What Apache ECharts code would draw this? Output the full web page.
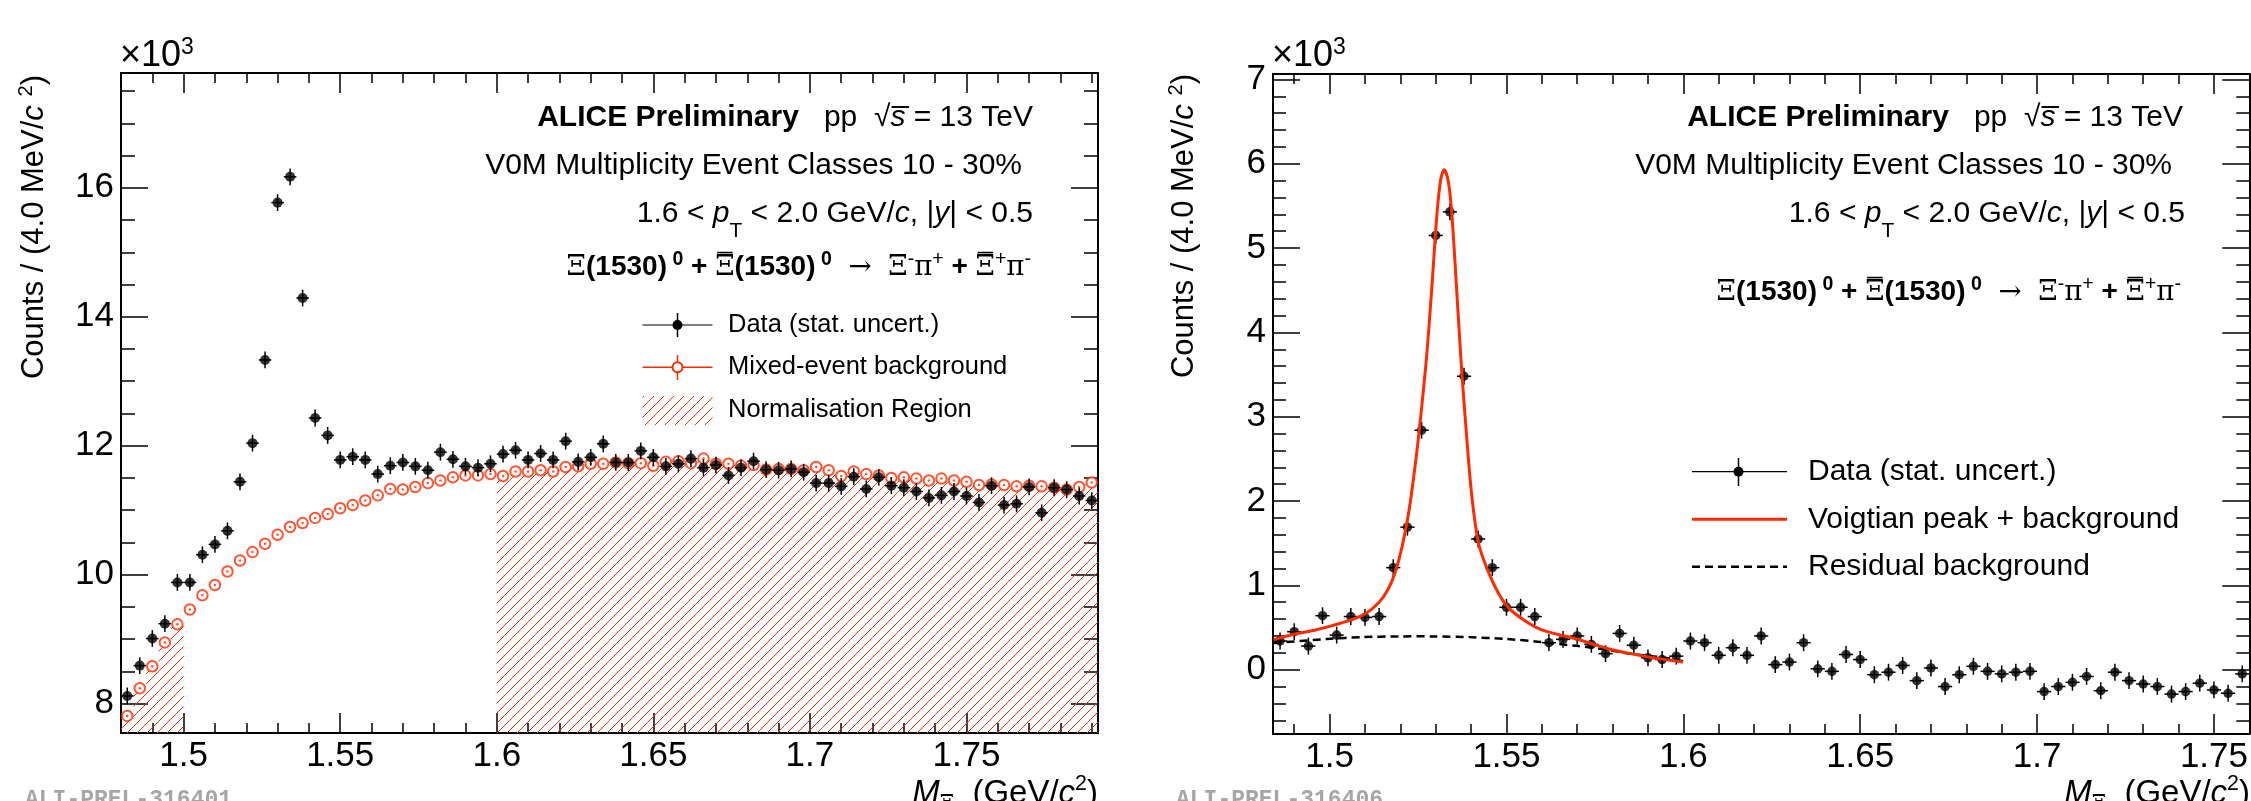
<!DOCTYPE html>
<html>
<head>
<meta charset="utf-8">
<script src="https://cdn.jsdelivr.net/npm/echarts@6/dist/echarts.min.js"></script>
<style>
  html, body { margin: 0; padding: 0; background: #fff; }
  #main { width: 2251px; height: 801px; }
</style>
</head>
<body>
<div id="main"></div>
<script>
const RED = '#ff2a00';
const FONT = 'Liberation Sans';
const GREEK = 'DejaVu Serif';
const BIN = 0.004;

// ---- left panel: invariant mass distribution (x10^3 counts per 4 MeV) ----
const massLeft = [
  1.482, 1.486, 1.490, 1.494, 1.498, 1.502, 1.506, 1.510, 1.514, 1.518,
  1.522, 1.526, 1.530, 1.534, 1.538, 1.542, 1.546, 1.550, 1.554, 1.558,
  1.562, 1.566, 1.570, 1.574, 1.578, 1.582, 1.586, 1.590, 1.594, 1.598,
  1.602, 1.606, 1.610, 1.614, 1.618, 1.622, 1.626, 1.630, 1.634, 1.638,
  1.642, 1.646, 1.650, 1.654, 1.658, 1.662, 1.666, 1.670, 1.674, 1.678,
  1.682, 1.686, 1.690, 1.694, 1.698, 1.702, 1.706, 1.710, 1.714, 1.718,
  1.722, 1.726, 1.730, 1.734, 1.738, 1.742, 1.746, 1.750, 1.754, 1.758,
  1.762, 1.766, 1.770, 1.774, 1.778, 1.782, 1.786, 1.790
];
const countsLeft = [
  8.12, 8.59, 9.01, 9.24, 9.88, 9.88, 10.31, 10.47, 10.68, 11.44,
  12.04, 13.33, 15.77, 16.17, 14.29, 12.43, 12.16, 11.78, 11.83, 11.78,
  11.56, 11.69, 11.74, 11.68, 11.62, 11.90, 11.79, 11.68, 11.66, 11.72,
  11.87, 11.93, 11.78, 11.88, 11.78, 12.07, 11.75, 11.82, 12.03, 11.74,
  11.74, 11.92, 11.82, 11.68, 11.72, 11.80, 11.66, 11.70, 11.54, 11.66,
  11.76, 11.63, 11.62, 11.64, 11.59, 11.42, 11.42, 11.37, 11.52, 11.33,
  11.51, 11.38, 11.35, 11.29, 11.19, 11.23, 11.29, 11.22, 11.12, 11.38,
  11.08, 11.10, 11.36, 10.96, 11.35, 11.32, 11.22, 11.15
];
const mixedLeft = [
  7.81, 8.24, 8.58, 8.95, 9.23, 9.46, 9.68, 9.84, 10.05, 10.22,
  10.35, 10.48, 10.62, 10.74, 10.80, 10.88, 10.94, 11.03, 11.08, 11.15,
  11.23, 11.33, 11.32, 11.36, 11.42, 11.46, 11.51, 11.54, 11.54, 11.56,
  11.53, 11.60, 11.60, 11.62, 11.60, 11.67, 11.68, 11.72, 11.72, 11.74,
  11.73, 11.73, 11.69, 11.75, 11.76, 11.73, 11.80, 11.72, 11.72, 11.69,
  11.70, 11.63, 11.64, 11.64, 11.62, 11.67, 11.62, 11.53, 11.60, 11.56,
  11.54, 11.50, 11.51, 11.49, 11.46, 11.49, 11.46, 11.44, 11.39, 11.40,
  11.39, 11.37, 11.38, 11.37, 11.35, 11.32, 11.36, 11.43
];
const errLeft = 0.13;
const normRegions = [[1.48, 1.50], [1.60, 1.792]];

// ---- right panel: after mixed-event subtraction ----
const massRight = [
  1.486, 1.490, 1.494, 1.498, 1.502, 1.506, 1.510, 1.514, 1.518, 1.522,
  1.526, 1.530, 1.534, 1.538, 1.542, 1.546, 1.550, 1.554, 1.558, 1.562,
  1.566, 1.570, 1.574, 1.578, 1.582, 1.586, 1.590, 1.594, 1.598, 1.602,
  1.606, 1.610, 1.614, 1.618, 1.622, 1.626, 1.630, 1.634, 1.638, 1.642,
  1.646, 1.650, 1.654, 1.658, 1.662, 1.666, 1.670, 1.674, 1.678, 1.682,
  1.686, 1.690, 1.694, 1.698, 1.702, 1.706, 1.710, 1.714, 1.718, 1.722,
  1.726, 1.730, 1.734, 1.738, 1.742, 1.746, 1.750, 1.754, 1.758
];
const countsRight = [
  0.34, 0.45, 0.28, 0.64, 0.41, 0.63, 0.62, 0.63, 1.21, 1.69,
  2.84, 5.15, 5.43, 3.48, 1.55, 1.21, 0.74, 0.74, 0.63, 0.32,
  0.36, 0.40, 0.30, 0.19, 0.43, 0.29, 0.14, 0.12, 0.16, 0.34,
  0.32, 0.17, 0.26, 0.17, 0.40, 0.06, 0.09, 0.32, 0.01, -0.02,
  0.18, 0.12, -0.06, -0.03, 0.05, -0.13, 0.02, -0.20, -0.06, 0.04,
  -0.02, -0.05, -0.03, -0.02, -0.26, -0.20, -0.15, -0.08, -0.25, -0.03,
  -0.13, -0.17, -0.20, -0.29, -0.26, -0.16, -0.24, -0.28, -0.05
];
const errRight = 0.1;

// Voigtian + background fit
const fitX = [
  1.4842, 1.4900, 1.4960, 1.5000, 1.5050, 1.5100, 1.5140, 1.5165, 1.5185, 1.5205,
  1.5225, 1.5245, 1.5260, 1.5275, 1.5290, 1.5303, 1.5314, 1.5324, 1.5336, 1.5346,
  1.5358, 1.5371, 1.5384, 1.5401, 1.5421, 1.5446, 1.5477, 1.5507, 1.5548, 1.5598,
  1.5648, 1.5699, 1.5749, 1.5799, 1.5850, 1.5901, 1.5951, 1.5999
];
const fitY = [
  0.356, 0.42, 0.47, 0.514, 0.575, 0.66, 0.80, 0.95, 1.15, 1.46,
  1.90, 2.53, 3.10, 3.75, 4.59, 5.38, 5.81, 5.93, 5.78, 5.38,
  4.59, 3.70, 2.95, 2.10, 1.50, 1.19, 0.91, 0.73, 0.593, 0.474,
  0.415, 0.364, 0.297, 0.237, 0.19, 0.15, 0.119, 0.091
];
// residual background
const bgX = [1.4842, 1.4943, 1.5043, 1.5144, 1.5245, 1.5346, 1.5446, 1.5548, 1.5648, 1.5749, 1.5850, 1.5951, 1.5999];
const bgY = [0.316, 0.348, 0.376, 0.391, 0.395, 0.391, 0.376, 0.348, 0.304, 0.257, 0.19, 0.138, 0.099];

// ---- axes ----
const X_LEFT = [1.48, 1.792];
const Y_LEFT = [7.545, 17.78];
const X_RIGHT = [1.484, 1.76];
const Y_RIGHT = [-0.763, 7.065];
const massTicks = [1.5, 1.55, 1.6, 1.65, 1.7, 1.75];
const leftYTicks = [8, 10, 12, 14, 16];
const rightYTicks = [0, 1, 2, 3, 4, 5, 6, 7];

function minorTicks(range, step, majors) {
  const out = [];
  for (let i = Math.ceil(range[0] / step - 1e-9); i * step <= range[1] + 1e-9; i++) {
    const v = +(i * step).toFixed(4);
    if (!majors.some(m => Math.abs(m - v) < 1e-6)) out.push(v);
  }
  return out;
}

function axisSet(dim, grid, range, major, minor, lenMajor, lenMinor, margin) {
  const sides = dim === 'x' ? ['bottom', 'top'] : ['left', 'right'];
  const out = [];
  sides.forEach((pos, si) => {
    [[major, lenMajor], [minor, lenMinor]].forEach(([vals, len], ti) => {
      const labelled = si === 0 && ti === 0;
      out.push({
        type: 'value', gridIndex: grid, position: pos,
        min: range[0], max: range[1],
        splitLine: { show: false },
        axisPointer: { show: false },
        axisLine: { show: ti === 0, onZero: false, lineStyle: { color: '#000', width: 2 } },
        axisTick: { show: true, inside: true, length: len, customValues: vals,
          lineStyle: { color: '#000', width: 1.5 } },
        axisLabel: labelled ? {
          show: true, customValues: major, margin,
          color: '#000', fontFamily: FONT, fontSize: 35,
          formatter: v => String(+(+v).toFixed(3))
        } : { show: false }
      });
    });
  });
  return out;
}

// hatch pattern for the normalisation region
function makeHatch() {
  const s = 10;
  const c = document.createElement('canvas');
  c.width = s; c.height = s;
  const g = c.getContext('2d');
  g.strokeStyle = RED; g.lineWidth = 1;
  g.beginPath();
  g.moveTo(0, s); g.lineTo(s, 0);
  g.moveTo(-s / 2, s / 2); g.lineTo(s / 2, -s / 2);
  g.moveTo(s / 2, s * 1.5); g.lineTo(s * 1.5, s / 2);
  g.stroke();
  return { image: c, repeat: 'repeat' };
}
const HATCH = makeHatch();

const hatchBins = [];
massLeft.forEach((m, i) => {
  if (normRegions.some(([a, b]) => m > a && m < b)) hatchBins.push([m - BIN / 2, m + BIN / 2, mixedLeft[i]]);
});

function errorBars(xi, yi, pts, err) {
  return {
    type: 'custom', xAxisIndex: xi, yAxisIndex: yi, data: pts, encode: { x: 0, y: 1 }, z: 3, silent: true,
    renderItem: (p, api) => {
      const x = api.value(0), y = api.value(1);
      const t = api.coord([x, y + err]), b = api.coord([x, y - err]);
      const l = api.coord([x - BIN / 2, y]), r = api.coord([x + BIN / 2, y]);
      const st = { stroke: '#000', lineWidth: 1.5 };
      return { type: 'group', children: [
        { type: 'line', shape: { x1: t[0], y1: t[1], x2: b[0], y2: b[1] }, style: st },
        { type: 'line', shape: { x1: l[0], y1: l[1], x2: r[0], y2: r[1] }, style: st }
      ] };
    }
  };
}

const pairs = (xs, ys) => xs.map((x, i) => [x, ys[i]]);

// ---- texts ----
function rich(size, lh, boldSize) {
  const base = { fontFamily: FONT, fontSize: size, lineHeight: lh, verticalAlign: 'middle', fill: '#000' };
  return {
    r: base,
    b: Object.assign({}, base, { fontWeight: 'bold', fontSize: boldSize || size }),
    i: Object.assign({}, base, { fontStyle: 'italic' }),
    g: Object.assign({}, base, { fontFamily: GREEK, fontSize: size * 0.92 }),
    s: { fontFamily: FONT, fontSize: size * 0.65, lineHeight: size * 0.63, verticalAlign: 'top', fill: '#000' },
    bs: { fontFamily: FONT, fontWeight: 'bold', fontSize: size * 0.65, lineHeight: size * 0.63, verticalAlign: 'top', fill: '#000' },
    d: { fontFamily: FONT, fontSize: size * 0.7, lineHeight: size * 0.77, verticalAlign: 'bottom', fill: '#000' },
    gd: { fontFamily: GREEK, fontSize: size * 0.62, lineHeight: size * 0.77, verticalAlign: 'bottom', fill: '#000' }
  };
}
function txt(x, y, text, r, align, rotation) {
  return { type: 'text', x, y, rotation: rotation || 0, silent: true,
    style: { text, rich: r, align: align || 'right', verticalAlign: 'top', fontFamily: FONT, fill: '#000' } };
}

// measure tokens so that the bar of the anti-Xi can be placed over its glyph
const mctx = document.createElement('canvas').getContext('2d');
function tokenWidth(st, t) {
  mctx.font = (st.fontStyle || 'normal') + ' ' + (st.fontWeight || 'normal') + ' ' + st.fontSize + 'px "' + st.fontFamily + '"';
  return mctx.measureText(t).width;
}
function barredLine(xRight, lineTop, tokens, r, lh) {
  const text = tokens.map(([s, t]) => '{' + s + '|' + t + '}').join('');
  const widths = tokens.map(([s, t]) => tokenWidth(r[s], t));
  let x = xRight - widths.reduce((a, b) => a + b, 0);
  const out = [txt(xRight, lineTop, text, r)];
  tokens.forEach(([s, t, bar], k) => {
    if (bar) {
      const yb = lineTop + lh / 2 - r[s].fontSize * 0.36 - 5;
      out.push(seg(x + 2, yb, x + widths[k] - 2, yb, '#000', 1.6));
    }
    x += widths[k];
  });
  return out;
}

const line1 = '{b|ALICE Preliminary}{r|   pp  √}{i|s\u0305}{r| = 13 TeV}';
const line2 = '{r|V0M Multiplicity Event Classes 10 - 30%}';
const line3 = '{r|1.6 < }{i|p}{d|T}{r| < 2.0 GeV/}{i|c}{r|, |}{i|y}{r|| < 0.5}';
const line4 = [
  ['g', 'Ξ'], ['b', '(1530)'], ['bs', ' 0'], ['b', ' + '], ['g', 'Ξ', true], ['b', '(1530)'], ['bs', ' 0'],
  ['r', '  '], ['g', '→'], ['r', '  '], ['g', 'Ξ'], ['s', '-'], ['g', 'π'], ['s', '+'], ['b', ' + '],
  ['g', 'Ξ', true], ['s', '+'], ['g', 'π'], ['s', '-']
];
const yTitle = '{r|Counts / (4.0 MeV/}{i|c}{r| }{s|2}{r|)}';
const xTitle = '{i|M}{gd|Ξ}{r|  (GeV/}{i|c}{s|2}{r|)}';
const times = '{a|×10}{s|3}';
const timesRich = { a: { fontFamily: FONT, fontSize: 36, lineHeight: 40, verticalAlign: 'middle', fill: '#000' },
  s: { fontFamily: FONT, fontSize: 23, lineHeight: 14, verticalAlign: 'top', fill: '#000' } };

const R30 = rich(30, 36), R30s = rich(30, 55), R30x = rich(30, 36, 28);

function plain(x, y, text, size, extra) {
  return { type: 'text', x, y, silent: true,
    style: Object.assign({ text, fontFamily: FONT, fontSize: size, fill: '#000', align: 'left', verticalAlign: 'middle' }, extra || {}) };
}
function seg(x1, y1, x2, y2, stroke, w, dash) {
  return { type: 'line', silent: true, shape: { x1, y1, x2, y2 }, style: { stroke, lineWidth: w, lineDash: dash || null } };
}
function dot(cx, cy, r, fill, stroke, w) {
  return { type: 'circle', silent: true, shape: { cx, cy, r }, style: { fill, stroke: stroke || null, lineWidth: w || 0 } };
}

const graphics = [
  // left header
  txt(1033, 99.5, line1, R30), txt(1022, 147.8, line2, R30),
  txt(1033, 186.5, line3, R30s), ...barredLine(1031, 249.5, line4, R30x, 36),
  // right header
  txt(2183, 99.5, line1, R30), txt(2172, 147.8, line2, R30),
  txt(2185, 186.5, line3, R30s), ...barredLine(2181, 274.5, line4, R30x, 36),
  // axis titles
  txt(16.5, 75, yTitle, rich(31, 36), 'right', Math.PI / 2),
  txt(1166.5, 74, yTitle, rich(31, 36), 'right', Math.PI / 2),
  txt(1098, 774, xTitle, rich(33, 40)), txt(2250, 774, xTitle, rich(33, 40)),
  txt(120, 36.3, times, timesRich, 'left'), txt(1272, 36.3, times, timesRich, 'left'),
  // left legend
  seg(642.5, 325, 712.5, 325, '#000', 1.2), seg(677.5, 313, 677.5, 337, '#000', 1.5),
  dot(677.5, 325, 5, '#000'),
  seg(642.5, 367.3, 712.5, 367.3, RED, 1.5), seg(677.5, 355, 677.5, 380, RED, 1.5),
  dot(677.5, 367.3, 5, '#fff', RED, 2),
  { type: 'rect', silent: true, shape: { x: 642.5, y: 396, width: 70, height: 29 }, style: { fill: HATCH } },
  plain(728, 325, 'Data (stat. uncert.)', 25.5),
  plain(728, 367.3, 'Mixed-event background', 25.5),
  plain(728, 410, 'Normalisation Region', 25.5),
  // right legend
  seg(1692, 471.7, 1787, 471.7, '#000', 1.2), seg(1738.5, 458, 1738.5, 486, '#000', 1.5),
  dot(1738.5, 471.7, 5, '#000'),
  seg(1692, 519.3, 1787, 519.3, RED, 3),
  seg(1692, 566.7, 1787, 566.7, '#000', 2.5, [8, 5]),
  plain(1808, 471.7, 'Data (stat. uncert.)', 30),
  plain(1808, 519.3, 'Voigtian peak + background', 30),
  plain(1808, 566.7, 'Residual background', 30),
  // watermarks
  plain(25, 800, 'ALI-PREL-316401', 23, { fontFamily: 'Liberation Mono', fontWeight: 'bold', fill: '#a6a6a6' }),
  plain(1176, 800, 'ALI-PREL-316406', 23, { fontFamily: 'Liberation Mono', fontWeight: 'bold', fill: '#a6a6a6' })
];

const chart = echarts.init(document.getElementById('main'));
chart.setOption({
  animation: false,
  backgroundColor: '#fff',
  grid: [
    { left: 121, top: 73, width: 977, height: 660 },
    { left: 1273, top: 74, width: 977, height: 660 }
  ],
  xAxis: [
    ...axisSet('x', 0, X_LEFT, massTicks, minorTicks(X_LEFT, 0.01, massTicks), 20, 10, 6),
    ...axisSet('x', 1, X_RIGHT, massTicks, minorTicks(X_RIGHT, 0.01, massTicks), 20, 10, 6)
  ],
  yAxis: [
    ...axisSet('y', 0, Y_LEFT, leftYTicks, minorTicks(Y_LEFT, 0.5, leftYTicks), 27, 14, 7),
    ...axisSet('y', 1, Y_RIGHT, rightYTicks, minorTicks(Y_RIGHT, 0.2, rightYTicks), 27, 13, 7)
  ],
  graphic: { elements: graphics },
  series: [
    {
      type: 'custom', xAxisIndex: 0, yAxisIndex: 0, data: hatchBins, encode: { x: [0, 1], y: 2 }, z: 1, silent: true,
      renderItem: (p, api) => {
        const tl = api.coord([api.value(0), api.value(2)]);
        const br = api.coord([api.value(1), Y_LEFT[0]]);
        return { type: 'rect', shape: { x: tl[0], y: tl[1], width: br[0] - tl[0], height: br[1] - tl[1] },
          style: { fill: HATCH } };
      }
    },
    {
      type: 'scatter', xAxisIndex: 0, yAxisIndex: 0, data: pairs(massLeft, mixedLeft), z: 2, silent: true,
      symbol: 'circle', symbolSize: 10.5,
      itemStyle: { color: '#fff', borderColor: RED, borderWidth: 2 }
    },
    {
      type: 'scatter', xAxisIndex: 0, yAxisIndex: 0, data: pairs(massLeft, mixedLeft), z: 2, silent: true,
      symbol: 'circle', symbolSize: 2.5, itemStyle: { color: RED }
    },
    errorBars(0, 0, pairs(massLeft, countsLeft), errLeft),
    {
      type: 'scatter', xAxisIndex: 0, yAxisIndex: 0, data: pairs(massLeft, countsLeft), z: 4, silent: true,
      symbol: 'circle', symbolSize: 10, itemStyle: { color: '#000' }
    },
    errorBars(4, 4, pairs(massRight, countsRight), errRight),
    {
      type: 'scatter', xAxisIndex: 4, yAxisIndex: 4, data: pairs(massRight, countsRight), z: 4, silent: true,
      symbol: 'circle', symbolSize: 9.5, itemStyle: { color: '#000' }
    },
    {
      type: 'line', xAxisIndex: 4, yAxisIndex: 4, data: pairs(bgX, bgY), z: 5, silent: true,
      showSymbol: false, smooth: true,
      lineStyle: { color: '#000', width: 2.5, type: [8, 5] }
    },
    {
      type: 'line', xAxisIndex: 4, yAxisIndex: 4, data: pairs(fitX, fitY), z: 6, silent: true,
      showSymbol: false, smooth: 0.3,
      lineStyle: { color: RED, width: 3 }
    }
  ]
});
</script>
</body>
</html>
